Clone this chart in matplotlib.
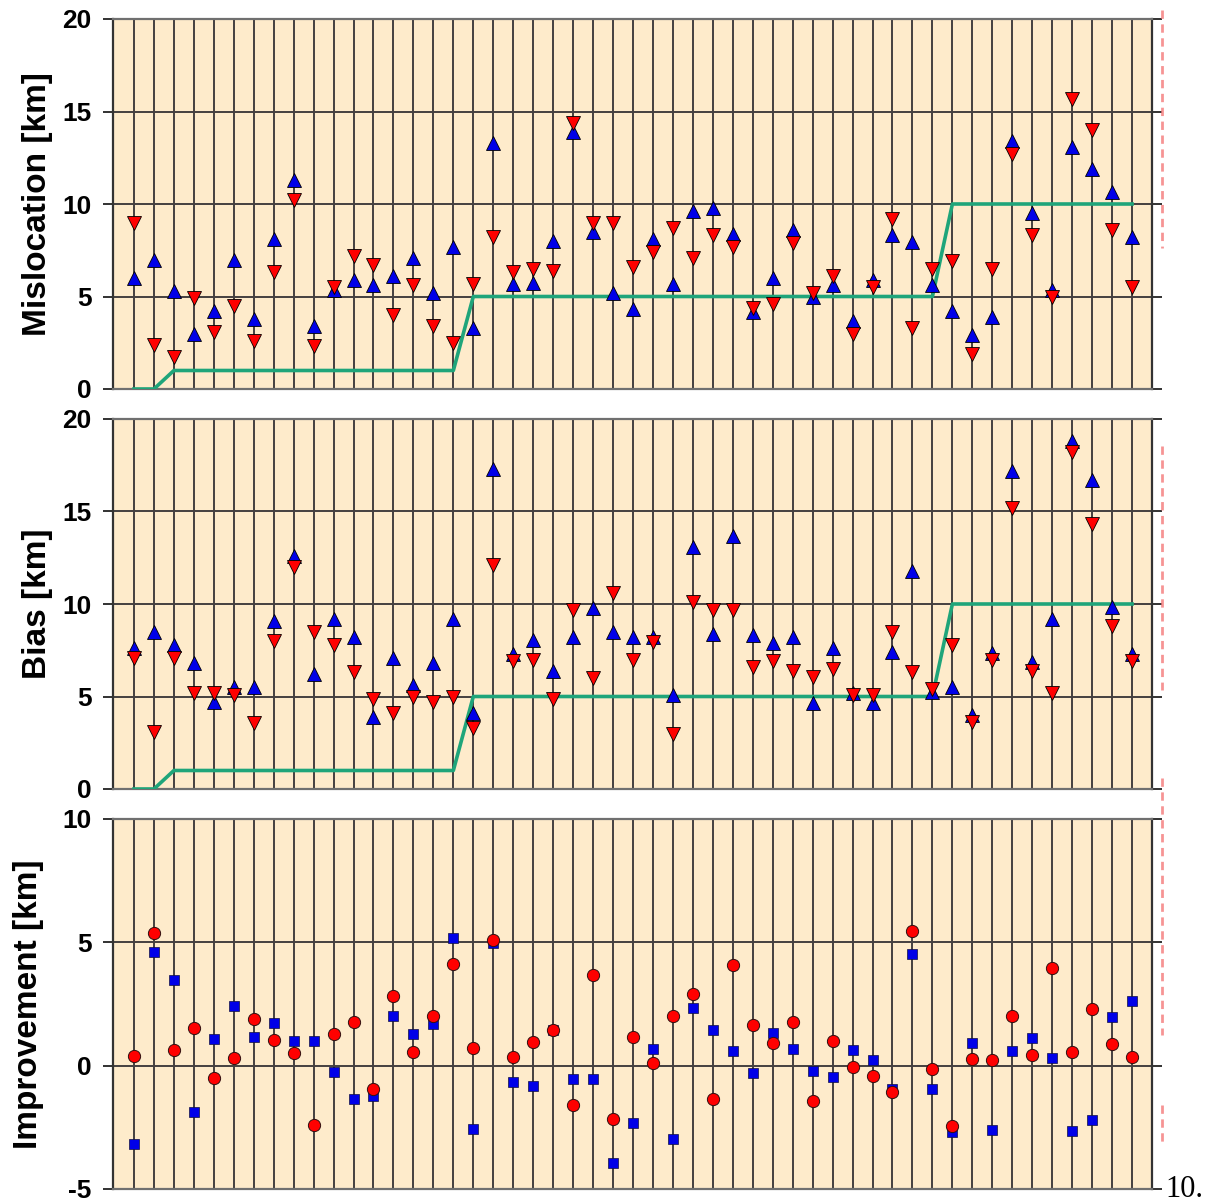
import numpy as np
import matplotlib.pyplot as plt
from matplotlib.lines import Line2D

plt.rcParams['font.family'] = ['Liberation Sans', 'DejaVu Sans']
plt.rcParams['axes.unicode_minus'] = False

# === Données ===
cols = np.arange(1, 52)

mis_blue = [6.0, 7.0, 5.3, 3.0, 4.2, 7.0, 3.8, 8.1, 11.3, 3.4,
            5.35, 5.9, 5.6, 6.1, 7.1, 5.2, 7.7, 3.3, 13.3, 5.7,
            5.75, 8.0, 13.9, 8.5, 5.2, 4.3, 8.1, 5.7, 9.6, 9.8,
            8.4, 4.15, 6.0, 8.6, 5.0, 5.6, 3.7, 5.9, 8.3, 7.95,
            5.6, 4.2, 2.9, 3.9, 13.4, 9.5, 5.35, 13.1, 11.9, 10.65, 8.2]
mis_red = [9.0, 2.4, 1.75, 4.9, 3.1, 4.5, 2.6, 6.3, 10.2, 2.3,
           5.5, 7.2, 6.7, 4.0, 5.6, 3.4, 2.5, 5.7, 8.2, 6.3,
           6.5, 6.4, 14.4, 9.0, 9.0, 6.6, 7.4, 8.7, 7.1, 8.3,
           7.7, 4.4, 4.6, 7.9, 5.2, 6.1, 3.0, 5.5, 9.2, 3.3,
           6.5, 6.9, 1.9, 6.5, 12.7, 8.3, 5.0, 15.7, 14.0, 8.6, 5.5]

bias_blue = [7.6, 8.5, 7.8, 6.8, 4.7, 5.5, 5.5, 9.1, 12.6, 6.2,
             9.2, 8.2, 3.9, 7.1, 5.6, 6.8, 9.2, 4.1, 17.3, 7.3,
             8.05, 6.4, 8.2, 9.8, 8.5, 8.2, 8.2, 5.1, 13.1, 8.4,
             13.7, 8.3, 7.9, 8.2, 4.65, 7.6, 5.2, 4.65, 7.4, 11.8,
             5.25, 5.5, 4.0, 7.35, 17.2, 6.85, 9.2, 18.8, 16.7, 9.85, 7.3]
bias_red = [7.1, 3.1, 7.1, 5.2, 5.2, 5.1, 3.55, 8.0, 12.0, 8.5,
            7.8, 6.3, 4.85, 4.1, 5.0, 4.7, 5.0, 3.3, 12.1, 6.9,
            7.0, 4.85, 9.7, 6.0, 10.6, 7.0, 7.95, 3.0, 10.1, 9.7,
            9.7, 6.6, 6.9, 6.4, 6.05, 6.5, 5.1, 5.1, 8.5, 6.3,
            5.4, 7.8, 3.6, 7.0, 15.2, 6.4, 5.2, 18.2, 14.3, 8.8, 6.9]

imp_red = [0.41, 5.39, 0.64, 1.52, -0.51, 0.30, 1.88, 1.04, 0.53, -2.40,
           1.27, 1.78, -0.96, 2.83, 0.57, 2.01, 4.11, 0.70, 5.10, 0.34,
           0.95, 1.45, -1.59, 3.68, -2.18, 1.15, 0.09, 2.03, 2.89, -1.37,
           4.09, 1.65, 0.91, 1.79, -1.43, 1.0, -0.04, -0.42, -1.08, 5.46,
           -0.15, -2.44, 0.26, 0.23, 2.03, 0.43, 3.97, 0.57, 2.30, 0.88, 0.37]
imp_blue = [-3.17, 4.59, 3.47, -1.89, 1.08, 2.42, 1.18, 1.72, 1.01, 1.01,
            -0.24, -1.37, -1.23, 2.01, 1.28, 1.69, 5.16, -2.57, 4.99, -0.68,
            -0.81, 1.45, -0.56, -0.56, -3.96, -2.32, 0.66, -2.98, 2.33, 1.45,
            0.61, -0.28, 1.31, 0.68, -0.20, -0.47, 0.64, 0.23, -0.94, 4.53,
            -0.96, -2.67, 0.93, -2.61, 0.61, 1.11, 0.30, -2.65, -2.20, 1.99, 2.64]

# consigne (ligne verte)
target_x = [1, 2, 3, 17, 18, 41, 42, 51]
target_y = [0, 0, 1, 1, 5, 5, 10, 10]

BG = '#FEEBCB'
GRID = '#444040'
GREEN = '#1FA57A'
RED = '#FF0000'
BLUE = '#0000E8'

W, H = 1209, 1204
fig = plt.figure(figsize=(W / 100, H / 100), dpi=100)

left, width, height = 113 / W, 1039 / W, 370 / H
bottoms = [(H - 389) / H, (H - 789) / H, (H - 1189) / H]


def style_axes(ax, ylim, yticks, ylabel, label_x):
    ax.set_facecolor(BG)
    ax.set_xlim(-0.05, 52.0)
    ax.set_ylim(*ylim)
    ax.set_xticks(cols)
    ax.set_yticks(yticks)
    ax.grid(True, color=GRID, lw=1.4, zorder=1)
    ax.set_axisbelow(True)
    ax.tick_params(axis='x', length=0, labelbottom=False)
    ax.tick_params(axis='y', direction='out', length=7.5, width=1.3,
                   color='#222222', left=True, right=True, labelsize=19, pad=8)
    for lab in ax.get_yticklabels():
        lab.set_fontweight('bold')
    for s in ['left', 'right']:
        ax.spines[s].set_color('#333333')
        ax.spines[s].set_linewidth(1.6)
    for s in ['top', 'bottom']:
        ax.spines[s].set_color('#707070')
        ax.spines[s].set_linewidth(1.6)
    ax.set_ylabel(ylabel, fontsize=24, fontweight='bold')
    ax.yaxis.set_label_coords(label_x, 0.5)


tri = dict(ls='none', ms=10, mec='black', mew=0.6, zorder=4)

# --- Mislocation ---
ax1 = fig.add_axes([left, bottoms[0], width, height])
style_axes(ax1, (0, 20), [0, 5, 10, 15, 20], 'Mislocation [km]', -0.058)
ax1.plot(target_x, target_y, color=GREEN, lw=2.6, zorder=3)
ax1.plot(cols, mis_blue, marker='^', color=BLUE, **tri)
ax1.plot(cols, mis_red, marker='v', color=RED, **tri)

# --- Bias ---
ax2 = fig.add_axes([left, bottoms[1], width, height])
style_axes(ax2, (0, 20), [0, 5, 10, 15, 20], 'Bias [km]', -0.058)
ax2.plot(target_x, target_y, color=GREEN, lw=2.6, zorder=3)
ax2.plot(cols, bias_blue, marker='^', color=BLUE, **tri)
ax2.plot(cols, bias_red, marker='v', color=RED, **tri)

# --- Improvement ---
ax3 = fig.add_axes([left, bottoms[2], width, height])
style_axes(ax3, (-5, 10), [-5, 0, 5, 10], 'Improvement [km]', -0.066)
ax3.plot(cols, imp_blue, 's', color=BLUE, ms=6.5, mec='#101040', mew=0.5, zorder=4)
ax3.plot(cols, imp_red, 'o', color=RED, ms=8.8, mec='#301010', mew=0.7, zorder=5)

# trait rouge pointillé en marge (annotation de la page)
xr = 1162 / W
for y0, y1 in [(10, 248), (446, 690), (778, 1035), (1105, 1145)]:
    fig.add_artist(Line2D([xr, xr], [(H - y0) / H, (H - y1) / H],
                          transform=fig.transFigure, color='#F47A7A',
                          lw=2, ls=(0, (3, 2)), alpha=0.8))

fig.text(1165 / W, (H - 1197) / H, '10.', fontsize=22,
         family=['Liberation Serif', 'DejaVu Serif'], ha='left', va='baseline')

fig.savefig('out.png', dpi=100)
